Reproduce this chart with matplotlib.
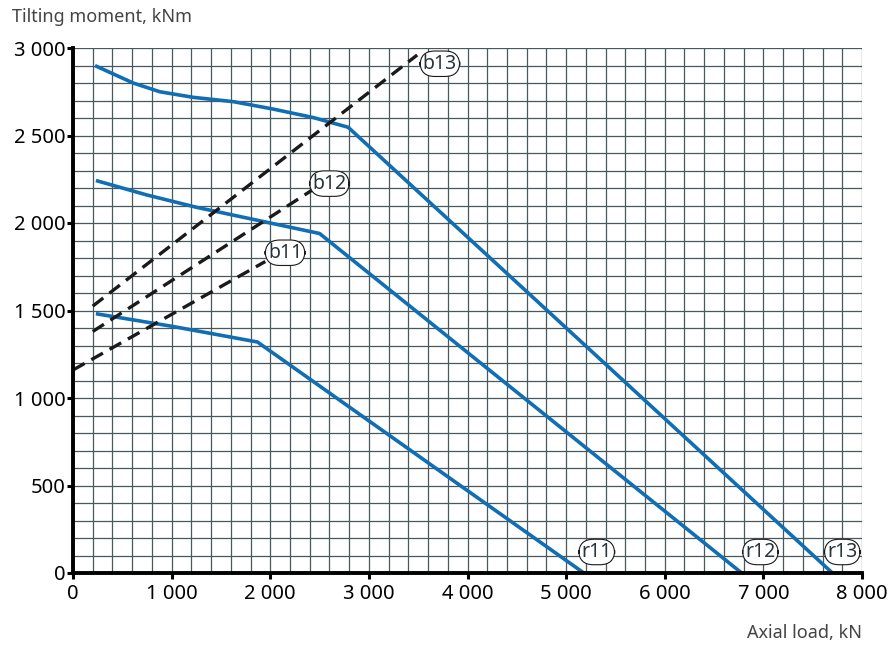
import numpy as np
import matplotlib.pyplot as plt
from matplotlib.ticker import MultipleLocator, FixedLocator

# ---------------- data ----------------
x_ticks = [0, 1000, 2000, 3000, 4000, 5000, 6000, 7000, 8000]
y_ticks = [0, 500, 1000, 1500, 2000, 2500, 3000]

# raceway limit curves (blue)
r11_x = [250, 1000, 1870, 5180]
r11_y = [1480, 1410, 1320, 0]
r12_x = [250, 750, 1250, 2000, 2500, 6780]
r12_y = [2240, 2160, 2090, 2000, 1940, 0]
r13_x = [240, 610, 880, 1220, 1630, 2030, 2440, 2790, 7700]
r13_y = [2895, 2800, 2750, 2718, 2693, 2651, 2602, 2547, 0]

# bolt limit lines (dashed)
b11_x = [0, 1950]
b11_y = [1160, 1780]
b12_x = [200, 2430]
b12_y = [1380, 2190]
b13_x = [200, 3490]
b13_y = [1525, 2960]

labels = ['b11', 'b12', 'b13', 'r11', 'r12', 'r13']
label_x = [2150, 2600, 3720, 5310, 6970, 7800]
label_y = [1830, 2225, 2910, 120, 120, 120]

blue = '#0f6eb4'
grid_c = '#4a585e'

plt.rcParams['font.family'] = ['Noto Sans', 'DejaVu Sans']

fig = plt.figure(figsize=(8.89, 6.45), dpi=100)
ax = fig.add_axes([73 / 889, 72 / 645, 789 / 889, 525 / 645])

ax.set_xlim(0, 8000)
ax.set_ylim(0, 3000)

ax.xaxis.set_major_locator(FixedLocator(x_ticks))
ax.yaxis.set_major_locator(FixedLocator(y_ticks))
ax.xaxis.set_minor_locator(MultipleLocator(200))
ax.yaxis.set_minor_locator(MultipleLocator(100))
ax.set_xticklabels([f'{v:,}'.replace(',', ' ') for v in x_ticks])
ax.set_yticklabels([f'{v:,}'.replace(',', ' ') for v in y_ticks])

ax.grid(which='both', color=grid_c, linewidth=0.9)
ax.set_axisbelow(True)
ax.tick_params(which='major', direction='out', length=4, width=2.2,
               labelsize=14.5, color='black')
ax.tick_params(axis='x', which='major', pad=4)
ax.tick_params(axis='y', which='major', pad=1)
ax.tick_params(which='minor', length=0)

for s in ['top', 'right']:
    ax.spines[s].set_visible(False)
for s in ['left', 'bottom']:
    ax.spines[s].set_linewidth(2.8)
    ax.spines[s].set_zorder(5)

# curves
for xs, ys in [(r11_x, r11_y), (r12_x, r12_y), (r13_x, r13_y)]:
    ax.plot(xs, ys, color=blue, linewidth=2.6, solid_joinstyle='round', zorder=3)
for xs, ys in [(b11_x, b11_y), (b12_x, b12_y), (b13_x, b13_y)]:
    ax.plot(xs, ys, color='#1a1a1a', linewidth=2.4, dashes=(4, 2.3), zorder=3)

for t, lx, ly in zip(labels, label_x, label_y):
    ax.text(lx, ly, t, ha='center', va='center', fontsize=14, color='#26343a',
            zorder=4,
            bbox=dict(boxstyle='round,pad=0.14,rounding_size=0.75',
                      fc='white', ec='#1a1a1a', lw=0.8))

fig.text(12 / 889, 1 - 17 / 645, 'Tilting moment, kNm', ha='left', va='center',
         fontsize=13, color='#444444')
fig.text(862 / 889, 1 - 633 / 645, 'Axial load, kN', ha='right', va='center',
         fontsize=13, color='#444444')

fig.savefig('out.png', dpi=100)
